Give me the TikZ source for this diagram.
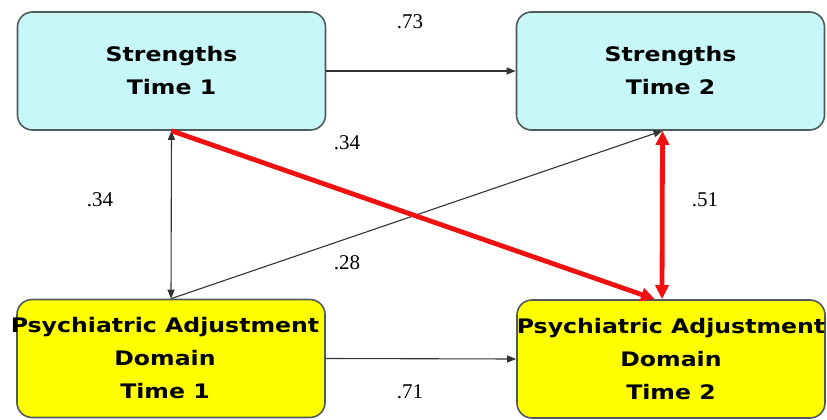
\documentclass[tikz,border=0pt]{standalone}
\usepackage{fontspec}
\setmainfont{Liberation Serif}
\newfontfamily\boxfont[FakeStretch=1.18]{DejaVu Sans}
\usetikzlibrary{arrows.meta,calc}
\definecolor{boxcyan}{HTML}{C8F7FA}
\definecolor{boxyellow}{HTML}{FFFF00}
\definecolor{boxedge}{HTML}{505A5A}
\definecolor{pathred}{HTML}{F01010}
\tikzset{
  varbox/.style={draw=boxedge, line width=1.6pt, rounded corners=15pt, minimum width=308pt, minimum height=118pt, inner sep=0pt},
  boxtext/.style={inner sep=0pt, align=center, font=\boxfont\bfseries\fontsize{20}{33}\selectfont},
  thinpath/.style={draw=black!80, line width=1.1pt, -{Triangle[length=9pt,width=7pt]}},
  redpath/.style={draw=pathred, line width=4.8pt, -{Triangle[length=14pt,width=13pt]}},
  coef/.style={font=\fontsize{21}{22}\selectfont, inner sep=0pt}
}
\begin{document}
\begin{tikzpicture}[x=1pt,y=-1pt]
\useasboundingbox (0,0) rectangle (827,420);
\node[varbox, fill=boxcyan] (s1) at (171.5,71) {};
\node[varbox, fill=boxcyan] (s2) at (670.5,71) {};
\node[varbox, fill=boxyellow] (p1) at (171,358.5) {};
\node[varbox, fill=boxyellow] (p2) at (671,359) {};
\node[boxtext] (s1t) at (s1.center) {Strengths\\Time 1};
\node[boxtext] (s2t) at (s2.center) {Strengths\\Time 2};
\node[boxtext] (p1t) at ($(p1.center)+(-6,0)$) {Psychiatric Adjustment\\Domain\\Time 1};
\node[boxtext] (p2t) at (p2.center) {Psychiatric Adjustment\\Domain\\Time 2};
\coordinate (s2in) at ($(s2.south)+(-8,0)$);
\coordinate (p2in) at ($(p2.north)+(-16,0)$);
\coordinate (p2up) at ($(p2.north)+(-9,0)$);
% stability paths
\draw[thinpath] (s1.east) -- (s2.west);
\draw[thinpath] (p1.east) -- (p2.west);
% correlation Time 1
\draw[thinpath, {Triangle[length=9pt,width=7pt]}-{Triangle[length=9pt,width=7pt]}] (s1.south) -- (p1.north);
% cross-lagged
\draw[thinpath] (p1.north) -- (s2in);
\draw[redpath] (s1.south) -- (p2in);
% correlation Time 2
\draw[redpath, {Triangle[length=14pt,width=13pt]}-{Triangle[length=14pt,width=13pt]}] (s2in) -- (p2up);
% coefficients
\node[coef] (c73) at (410,22) {.73};
\node[coef] (c71) at (410,392) {.71};
\node[coef] (c34a) at (100,200) {.34};
\node[coef] (c51) at (705,200) {.51};
\node[coef] (c34b) at (347,143) {.34};
\node[coef] (c28) at (347,263) {.28};
\end{tikzpicture}
\end{document}
